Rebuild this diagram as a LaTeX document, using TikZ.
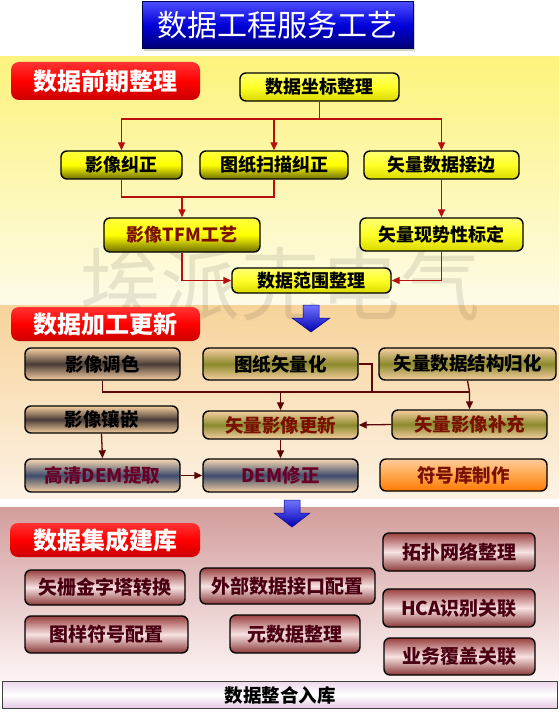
\documentclass[tikz,border=0pt]{standalone}
\usepackage{fontspec}
\newfontfamily\cjk{Noto Sans CJK SC}
\usetikzlibrary{arrows.meta,shadows}
\definecolor{bgyA}{HTML}{FDF37C}
\definecolor{bgyB}{HTML}{FDFBE8}
\definecolor{bgoA}{HTML}{F7D39A}
\definecolor{bgoB}{HTML}{FDF2E4}
\definecolor{bgpA}{HTML}{D39C9C}
\definecolor{bgpB}{HTML}{FDF4F4}
\definecolor{lnred}{HTML}{B80E0E}
\definecolor{lnbrn}{HTML}{5A0808}
\definecolor{txred}{HTML}{7A1000}
\definecolor{txmar}{HTML}{6A0028}
\definecolor{txdk}{HTML}{4A0012}
\definecolor{peach}{HTML}{F6CFA0}
\definecolor{dkbrn}{HTML}{4A3C38}
\definecolor{olv}{HTML}{8C8A2E}
\definecolor{slate}{HTML}{3E4C6C}
\definecolor{maroon}{HTML}{9A4040}
\definecolor{pinkw}{HTML}{F8E2E2}
\definecolor{dkyel}{HTML}{6E6E00}
\begin{document}
\begin{tikzpicture}[x=1pt,y=-1pt,
  wh/.style 2 args={minimum width=#1pt, minimum height=#2pt},
  box/.style={draw=black, line width=1.4pt, rounded corners=6pt, inner sep=0pt,
    font={\cjk\bfseries\fontsize{18}{20}\selectfont}},
  ybox/.style={box, top color=yellow!75!white, bottom color=dkyel, middle color=yellow},
  ybox2/.style={box, top color=yellow!55!white, bottom color=yellow!70!olive, middle color=yellow!85!white},
  brbox/.style={box, font={\cjk\bfseries\fontsize{18.5}{20}\selectfont}, top color=peach, bottom color=peach, middle color=dkbrn},
  olbox/.style={box, font={\cjk\bfseries\fontsize{18.5}{20}\selectfont}, top color=peach, bottom color=peach, middle color=olv},
  slbox/.style={box, font={\cjk\bfseries\fontsize{18.5}{20}\selectfont}, top color=peach!80!white, bottom color=peach, middle color=slate, text=txmar},
  orbox/.style={box, font={\cjk\bfseries\fontsize{18.5}{20}\selectfont}, top color=orange!40!white, bottom color=orange!95!red, middle color=orange!70!white, text=txred},
  mbox/.style={box, font={\cjk\bfseries\fontsize{19}{21}\selectfont}, top color=maroon, bottom color=maroon!90!black, middle color=pinkw, text=txdk},
  lab/.style={rounded corners=8pt, inner sep=0pt, text=white, top color=red!80!white, bottom color=red!80!black, middle color=red,
    font={\cjk\bfseries\fontsize{24}{26}\selectfont}},
  c1/.style={draw=lnred, line width=1.3pt},
  c2/.style={draw=lnbrn, line width=1.3pt},
  arr/.style={-{Triangle[length=8pt,width=7pt]}},
  barrow/.style={top color=blue!55!white, bottom color=blue!70!black, draw=blue!50!black, line width=0.5pt}
]
\useasboundingbox (0,0) rectangle (559,714);
\fill[white] (0,0) rectangle (559,714);
% backgrounds
\shade[top color=bgyA, bottom color=bgyB] (0,57) rectangle (559,304);
\shade[top color=bgoA, bottom color=bgoB] (0,305) rectangle (559,498);
\shade[top color=bgpA, bottom color=bgpB] (0,507) rectangle (559,680);
% watermark
\node[font={\cjk\fontsize{80}{80}\selectfont}, text=black, opacity=0.09] (wm) at (280,284) {埃派克电气};
% title
\node[draw=blue!30!black, line width=1pt, inner sep=0pt, wh={271}{47},
  top color=blue!70!white, bottom color=blue!45!black, middle color=blue!85!black,
  drop shadow={shadow xshift=2pt, shadow yshift=-2pt, opacity=0.35},
  text=white, font={\cjk\fontsize{30}{32}\selectfont}] (title) at (277.5,25.5) {数据工程服务工艺};
% section labels
\node[lab, wh={189}{38}] (lab1) at (105.5,81) {数据前期整理};
\node[lab, wh={189}{34}] (lab2) at (105.5,324) {数据加工更新};
\node[lab, wh={190}{34}] (lab3) at (105,540) {数据集成建库};
% section 1
\node[ybox2, wh={159}{28}] (zb) at (319.5,87) {数据坐标整理};
\node[ybox, wh={121}{28}] (yxjz) at (121.5,165) {影像纠正};
\node[ybox, wh={148}{28}] (tzsm) at (274,165) {图纸扫描纠正};
\node[ybox2, wh={155}{28}] (sljb) at (441.5,165) {矢量数据接边};
\node[ybox, wh={156}{34}, text=txred] (tfm) at (182,235) {影像TFM工艺};
\node[ybox2, wh={163}{33}] (bd) at (441.5,234.5) {矢量现势性标定};
\node[ybox2, wh={159}{25}] (fw) at (311.5,280.5) {数据范围整理};
\coordinate (bus1) at (319.5,119);
\coordinate (m1) at (182,197);
\draw[c1] (zb.south) -- (bus1);
\draw[c1,arr] (bus1) -| (yxjz.north);
\draw[c1,arr] (bus1) -| (tzsm.north);
\draw[c1,arr] (bus1) -| (sljb.north);
\draw[c1] (yxjz.south) |- (m1);
\draw[c1] (tzsm.south) |- (m1);
\draw[c1,arr] (m1) -- (tfm.north);
\draw[c1,arr] (sljb.south) -- (bd.north);
\draw[c1,arr] (tfm.south) |- (fw.west);
\draw[c1,arr] (bd.south) |- (fw.east);
% arrows between sections
\shade[barrow] (303,305) -- (319,305) -- (319,318) -- (330,318) -- (311,332) -- (292,318) -- (303,318) -- cycle;
\shade[barrow] (284,500) -- (300,500) -- (300,513) -- (310,513) -- (292,527) -- (274,513) -- (284,513) -- cycle;
% section 2
\node[brbox, wh={155}{32}] (ysts) at (102.5,364) {影像调色};
\node[olbox, wh={155}{32}] (tzslh) at (280.5,364) {图纸矢量化};
\node[olbox, wh={177}{32}] (jggh) at (467.5,364) {矢量数据结构归化};
\node[brbox, wh={153}{27}] (yxxq) at (101.5,419.5) {影像镶嵌};
\node[olbox, wh={155}{28}, text=txred] (slgx) at (280.5,425) {矢量影像更新};
\node[olbox, wh={155}{29}, text=txred] (slbc) at (469.5,424.5) {矢量影像补充};
\node[slbox, wh={155}{33}] (dem) at (102.5,475.5) {高清DEM提取};
\node[slbox, wh={155}{33}] (demxz) at (280.5,475.5) {DEM修正};
\node[orbox, wh={167}{32}] (fhk) at (463.5,475) {符号库制作};
\coordinate (h1) at (280.5,392);
\coordinate (h2) at (469.5,392);
\coordinate (h3) at (372,392);
\draw[c2] (ysts.south) |- (h1);
\draw[c2,arr] (h1) -- (slgx.north);
\draw[c2] (h1) -- (h2);
\draw[c2] (tzslh.east) -| (h3);
\draw[c2,arr] (jggh.south) -- (h2) -- (slbc.north);
\draw[c2,arr] (slbc.west) -- (slgx.east);
\draw[c2,arr] (yxxq.south) -- (dem.north);
\draw[c2,arr] (slgx.south) -- (demxz.north);
\draw[c2,arr] (dem.east) -- (demxz.west);
% section 3
\node[mbox, wh={152}{38}] (tp) at (459,552) {拓扑网络整理};
\node[mbox, wh={160}{35}] (sz) at (105,587.5) {矢栅金字塔转换};
\node[mbox, wh={175}{36}] (wb) at (287.5,586) {外部数据接口配置};
\node[mbox, wh={152}{38}] (hca) at (459,608) {HCA识别关联};
\node[mbox, wh={163}{37}] (ty) at (106.5,634.5) {图样符号配置};
\node[mbox, wh={130}{38}] (ysj) at (295,634) {元数据整理};
\node[mbox, wh={151}{37}] (yw) at (459.5,656.5) {业务覆盖关联};
% bottom bar
\node[draw=black!75, line width=1.4pt, inner sep=0pt, wh={555}{27},
  top color=violet!15!white, bottom color=violet!22!white, middle color=white,
  font={\cjk\bfseries\fontsize{18.5}{20}\selectfont}] (bar) at (280,695) {数据整合入库};
\end{tikzpicture}
\end{document}
